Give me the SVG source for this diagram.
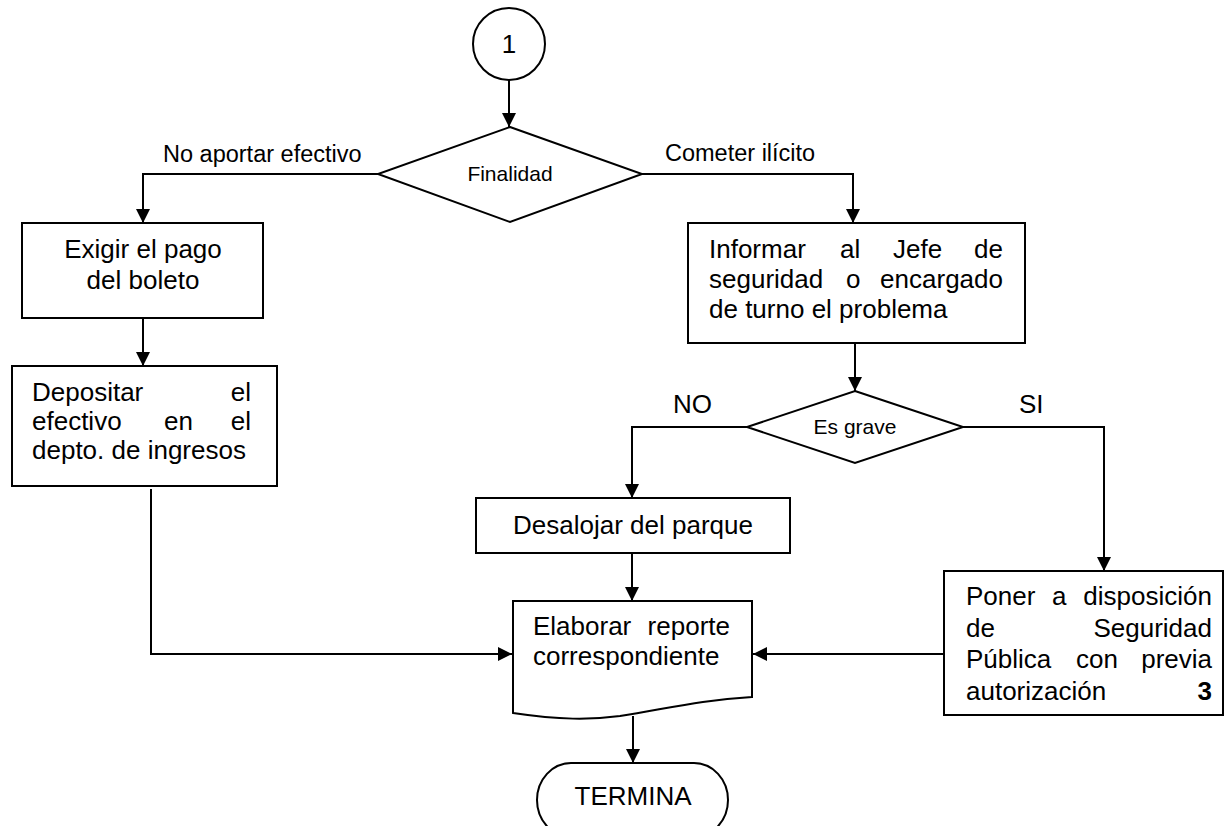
<svg xmlns="http://www.w3.org/2000/svg" width="1225" height="826" viewBox="0 0 1225 826">
<style>
.s{fill:#fff;stroke:#000;stroke-width:2}
.t{font-family:"Liberation Sans",Arial,sans-serif;font-size:26px;fill:#000}
.l{font-family:"Liberation Sans",Arial,sans-serif;font-size:23.5px;fill:#000}
.d{font-family:"Liberation Sans",Arial,sans-serif;font-size:21px;fill:#000}
.c{fill:none;stroke:#000;stroke-width:2}
.m{text-anchor:middle}
.e{text-anchor:end}
</style>
<defs>
<marker id="a" markerUnits="userSpaceOnUse" markerWidth="14" markerHeight="14" viewBox="0 0 14 14" refX="14" refY="7" orient="auto">
<path d="M0,0 L14,7 L0,14 Z" fill="#000"/>
</marker>
</defs>
<g id="connectors">
<path class="c" d="M509,80 V127" marker-end="url(#a)"/>
<path class="c" d="M378,174 H143 V223" marker-end="url(#a)"/>
<path class="c" d="M642,174 H853 V223" marker-end="url(#a)"/>
<path class="c" d="M143,318 V366" marker-end="url(#a)"/>
<path class="c" d="M855,343 V391" marker-end="url(#a)"/>
<path class="c" d="M747,427 H632 V498" marker-end="url(#a)"/>
<path class="c" d="M963,427 H1104 V571" marker-end="url(#a)"/>
<path class="c" d="M632,553 V601" marker-end="url(#a)"/>
<path class="c" d="M151,489 V654 H512" marker-end="url(#a)"/>
<path class="c" d="M944,654 H753" marker-end="url(#a)"/>
<path class="c" d="M633,716 V763" marker-end="url(#a)"/>
<text class="l" x="163" y="162">No aportar efectivo</text>
<text class="l" x="665" y="161">Cometer ilícito</text>
<text class="t" x="673" y="413">NO</text>
<text class="t" x="1019" y="413">SI</text>
</g>
<g id="n1">
<circle class="s" cx="509" cy="44" r="36"/>
<text class="t m" x="509" y="53">1</text>
</g>
<g id="finalidad">
<path class="s" d="M510,127 L642,174 L510,222 L378,174 Z"/>
<text class="d m" x="510" y="181">Finalidad</text>
</g>
<g id="exigir">
<rect class="s" x="22" y="223" width="241" height="95"/>
<text class="t m" x="143" y="258">Exigir el pago</text>
<text class="t m" x="143" y="289">del boleto</text>
</g>
<g id="depositar">
<rect class="s" x="12" y="366" width="265" height="120"/>
<text class="t" x="32" y="401">Depositar</text>
<text class="t e" x="251" y="401">el</text>
<text class="t" x="32" y="430">efectivo</text>
<text class="t" x="164" y="430">en</text>
<text class="t e" x="251" y="430">el</text>
<text class="t" x="32" y="459">depto. de ingresos</text>
</g>
<g id="informar">
<rect class="s" x="688" y="223" width="337" height="120"/>
<text class="t" x="709" y="258">Informar</text>
<text class="t" x="840" y="258">al</text>
<text class="t" x="893" y="258">Jefe</text>
<text class="t e" x="1003" y="258">de</text>
<text class="t" x="709" y="288">seguridad</text>
<text class="t" x="846" y="288">o</text>
<text class="t e" x="1003" y="288">encargado</text>
<text class="t" x="709" y="318">de turno el problema</text>
</g>
<g id="esgrave">
<path class="s" d="M855,391 L963,427 L855,463 L747,427 Z"/>
<text class="d m" x="855" y="434">Es grave</text>
</g>
<g id="desalojar">
<rect class="s" x="476" y="498" width="314" height="55"/>
<text class="t m" x="633" y="534">Desalojar del parque</text>
</g>
<g id="poner">
<rect class="s" x="944" y="571" width="279" height="144"/>
<text class="t" x="966" y="605">Poner</text>
<text class="t" x="1052" y="605">a</text>
<text class="t e" x="1212" y="605">disposición</text>
<text class="t" x="966" y="637">de</text>
<text class="t e" x="1212" y="637">Seguridad</text>
<text class="t" x="966" y="668">Pública</text>
<text class="t" x="1076" y="668">con</text>
<text class="t e" x="1212" y="668">previa</text>
<text class="t" x="966" y="700">autorización</text>
<text class="t e" x="1212" y="700" font-weight="bold">3</text>
</g>
<g id="elaborar">
<path class="s" d="M513,601 H752 V697 C700,700 670,708 620,716 C590,720 560,720 513,713 Z"/>
<text class="t" x="533" y="635">Elaborar</text>
<text class="t e" x="730" y="635">reporte</text>
<text class="t" x="533" y="665">correspondiente</text>
</g>
<g id="termina">
<rect class="s" x="537" y="763" width="191" height="74" rx="34" ry="37"/>
<text class="t m" x="633" y="805">TERMINA</text>
</g>
</svg>
